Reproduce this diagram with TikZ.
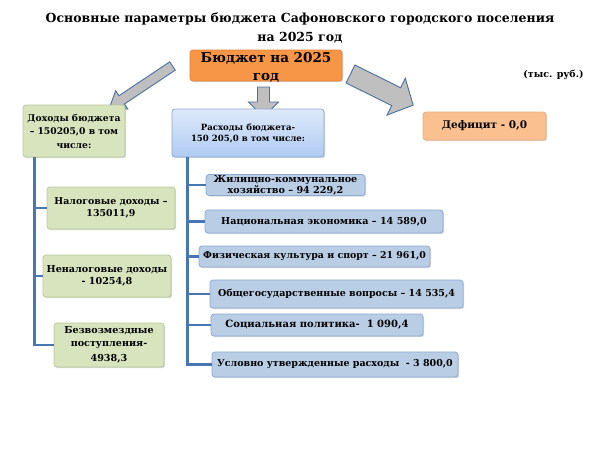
\documentclass[tikz,border=0pt]{standalone}
\usepackage{fontspec}
\setmainfont{DejaVu Serif}
\usetikzlibrary{shadows}
\definecolor{orangeB}{RGB}{247,150,70}
\definecolor{orangeBd}{RGB}{228,130,55}
\definecolor{defF}{RGB}{250,192,144}
\definecolor{defD}{RGB}{235,170,120}
\definecolor{greenF}{RGB}{215,228,189}
\definecolor{greenD}{RGB}{185,200,155}
\definecolor{blueF}{RGB}{185,205,229}
\definecolor{blueD}{RGB}{140,170,210}
\definecolor{rTop}{RGB}{222,233,250}
\definecolor{rBot}{RGB}{175,203,242}
\definecolor{lineB}{RGB}{72,118,178}
\definecolor{arrF}{RGB}{191,191,191}
\definecolor{arrD}{RGB}{75,110,160}
\newcommand{\fs}[2]{\bfseries\fontsize{#1}{#2}\selectfont}
\begin{document}
\begin{tikzpicture}[x=1pt,y=-1pt,
  box/.style={rounded corners=3pt, draw, line width=0.8pt, inner sep=0pt, align=center,
    font=\fs{9.5}{12},
    drop shadow={opacity=0.3, shadow xshift=1.2pt, shadow yshift=-1.2pt}},
  gbox/.style={box, fill=greenF, draw=greenD},
  bbox/.style={box, fill=blueF, draw=blueD},
  conn/.style={draw=lineB, line width=2.2pt},
  barrow/.style={fill=arrF, draw=arrD, line width=0.9pt, line join=miter}]
\useasboundingbox (0,0) rectangle (600,450);
\fill[white] (0,0) rectangle (600,450);
% title
\node[font=\fs{12.5}{15}] (t1) at (300,19) {Основные параметры бюджета Сафоновского городского поселения};
\node[font=\fs{12.5}{15}] (t2) at (300,38) {на 2025 год};
% budget
\node[box, fill=orangeB, draw=orangeBd, minimum width=152, minimum height=31] (budget) at (266,65.5) {};
\node[font=\fs{13.5}{18}, align=center] (btext) at (266,67.5) {Бюджет на 2025\\год};
\node[font=\fs{9.5}{12}] (unit) at (553.5,75) {(тыс. руб.)};
% block arrows
\begin{scope}[shift={(172.5,66)}, rotate=213.7]
  \draw[barrow] (0,-5) -- (61,-5) -- (61,-11) -- (76,0) -- (61,11) -- (61,5) -- (0,5) -- cycle;
\end{scope}
\begin{scope}[shift={(263.5,87)}, rotate=-90]
  \draw[barrow] (0,-6) -- (15,-6) -- (15,-15) -- (30,0) -- (15,15) -- (15,6) -- (0,6) -- cycle;
\end{scope}
\begin{scope}[shift={(350.5,74)}, rotate=-26.4]
  \draw[barrow] (0,-10) -- (51,-10) -- (51,-20.5) -- (70,0) -- (51,20.5) -- (51,10) -- (0,10) -- cycle;
\end{scope}
% main boxes
\node[gbox, minimum width=102, minimum height=52, font=\fs{9.2}{13.5}] (doh) at (74,131) {Доходы бюджета\\– 150205,0 в том\\числе:};
\node[box, top color=rTop, bottom color=rBot, draw=blueD, minimum width=152, minimum height=48, font=\fs{8.6}{11}] (rash) at (248,133) {Расходы бюджета-\\150 205,0 в том числе:};
\node[box, fill=defF, draw=defD, minimum width=123, minimum height=28, font=\fs{10.5}{12}] (def) at (484.5,126) {Дефицит - 0,0};
% income items
\node[gbox, minimum width=128, minimum height=42, font=\fs{9.4}{12}] (nalog) at (111,208) {Налоговые доходы –\\135011,9};
\node[gbox, minimum width=128, minimum height=42, font=\fs{9.6}{12}] (nenalog) at (107,276) {Неналоговые доходы\\- 10254,8};
\node[gbox, minimum width=110, minimum height=44, font=\fs{9.6}{12.5}] (bezv) at (109,345) {Безвозмездные\\поступления-\\[2.5pt]4938,3};
% expense items
\node[bbox, minimum width=159, minimum height=21, font=\fs{9.6}{10.6}] (zhkh) at (285.5,185) {Жилищно-коммунальное\\хозяйство – 94 229,2};
\node[bbox, minimum width=238, minimum height=23, font=\fs{9.6}{12}] (nac) at (324,221.5) {Национальная экономика – 14 589,0};
\node[bbox, minimum width=231, minimum height=21, font=\fs{9.4}{12}] (fiz) at (314.5,256.5) {Физическая культура и спорт – 21 961,0};
\node[bbox, minimum width=253, minimum height=28, font=\fs{9.5}{12}] (obsh) at (336.5,294) {Общегосударственные вопросы – 14 535,4};
\node[bbox, minimum width=212, minimum height=22, font=\fs{10}{12}] (soc) at (317,325) {Социальная политика-~ 1 090,4};
\node[bbox, minimum width=246, minimum height=25, font=\fs{9.5}{12}] (usl) at (335,364.5) {Условно утвержденные расходы~ - 3 800,0};
% connectors
\coordinate (lt) at (34.5,157);
\draw[conn] (lt) |- (nalog.west);
\draw[conn] (lt) |- (nenalog.west);
\draw[conn] (lt) |- (bezv.west);
\coordinate (rt) at (187.5,157);
\draw[conn] (rt) |- (zhkh.west);
\draw[conn] (rt) |- (nac.west);
\draw[conn] (rt) |- (fiz.west);
\draw[conn] (rt) |- (obsh.west);
\draw[conn] (rt) |- (soc.west);
\draw[conn] (rt) |- (usl.west);
\end{tikzpicture}
\end{document}
